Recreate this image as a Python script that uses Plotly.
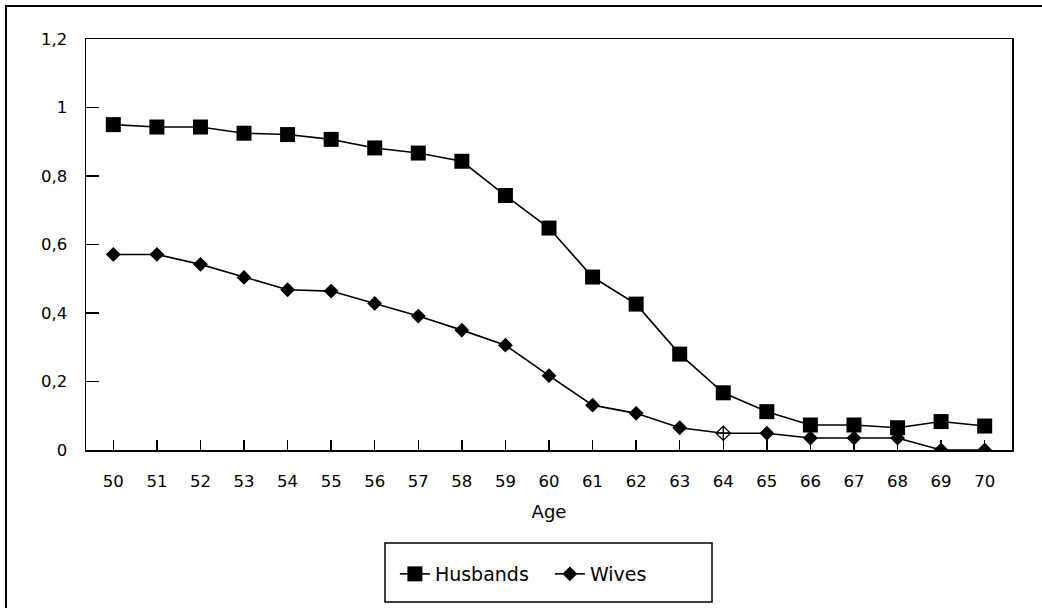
import plotly.graph_objects as go

ages = list(range(50, 71))
husbands = [0.950, 0.943, 0.943, 0.925, 0.921, 0.907, 0.882, 0.867, 0.843, 0.743,
            0.648, 0.505, 0.426, 0.280, 0.167, 0.112, 0.073, 0.073, 0.065, 0.083, 0.070]
wives = [0.571, 0.571, 0.542, 0.504, 0.468, 0.464, 0.428, 0.391, 0.350, 0.306,
         0.217, 0.131, 0.107, 0.065, 0.049, 0.049, 0.035, 0.035, 0.035, 0.0, 0.0]
y_ticks = [0, 0.2, 0.4, 0.6, 0.8, 1.0, 1.2]
y_labels = ["0", "0,2", "0,4", "0,6", "0,8", "1", "1,2"]

W, H = 1042, 608
L, R, T, B = 86, 1012, 39, 450

def px(x):
    return (x - L) / (R - L)

def py(y):
    return (B - y) / (B - T)

FONT = "DejaVu Sans"

wives_symbols = ["diamond"] * len(ages)
wives_sizes = [10] * len(ages)
wives_symbols[ages.index(64)] = "diamond-cross-open"
wives_sizes[ages.index(64)] = 11

fig = go.Figure()
fig.add_trace(go.Scatter(
    x=ages, y=husbands, name="Husbands", mode="lines+markers",
    line=dict(color="black", width=1.6),
    marker=dict(symbol="square", size=15, color="black", opacity=1),
))
fig.add_trace(go.Scatter(
    x=ages, y=wives, name="Wives", mode="lines+markers",
    line=dict(color="black", width=1.6),
    marker=dict(symbol=wives_symbols, size=wives_sizes, color="black", opacity=1,
                line=dict(color="black", width=1.3)),
))

fig.update_layout(
    width=W, height=H,
    margin=dict(l=L, r=W - R, t=T, b=H - B),
    paper_bgcolor="white", plot_bgcolor="white",
    font=dict(family=FONT, color="black", size=16),
    showlegend=True,
    hovermode=False,
    legend=dict(
        orientation="h", x=px(406) - 0.012, xanchor="left",
        y=py(555), yanchor="top",
        bgcolor="rgba(0,0,0,0)", borderwidth=0,
        font=dict(family=FONT, size=19, color="black"),
        entrywidth=110, itemwidth=30,
    ),
    xaxis=dict(
        range=[49.373, 70.627], tickmode="array", tickvals=ages,
        ticktext=[str(a) for a in ages],
        ticks="inside", ticklen=10, tickwidth=1.5, tickcolor="black",
        showline=True, linecolor="black", linewidth=1.5, mirror=True,
        showgrid=False, zeroline=False,
        tickfont=dict(family=FONT, size=16.5),
        ticklabelstandoff=16,
        title=dict(text="Age", font=dict(family=FONT, size=18), standoff=15),
    ),
    yaxis=dict(
        range=[0, 1.2], tickmode="array", tickvals=y_ticks, ticktext=y_labels,
        ticks="inside", ticklen=13, tickwidth=1.5, tickcolor="black",
        showline=True, linecolor="black", linewidth=1.5, mirror=True,
        showgrid=False, zeroline=False,
        tickfont=dict(family=FONT, size=16.5),
        ticklabelstandoff=14,
    ),
    shapes=[
        dict(type="rect", xref="paper", yref="paper",
             x0=px(6), y0=py(612), x1=px(1046), y1=py(6),
             line=dict(color="black", width=2), fillcolor="rgba(0,0,0,0)", layer="below"),
        dict(type="rect", xref="paper", yref="paper",
             x0=px(385), y0=py(602), x1=px(712), y1=py(543),
             line=dict(color="black", width=1.5), fillcolor="rgba(0,0,0,0)", layer="below"),
    ],
)

fig.write_html("out.html", config={"displayModeBar": False, "staticPlot": True},
               post_script="document.body.style.margin='0px';document.body.style.overflow='hidden';")
